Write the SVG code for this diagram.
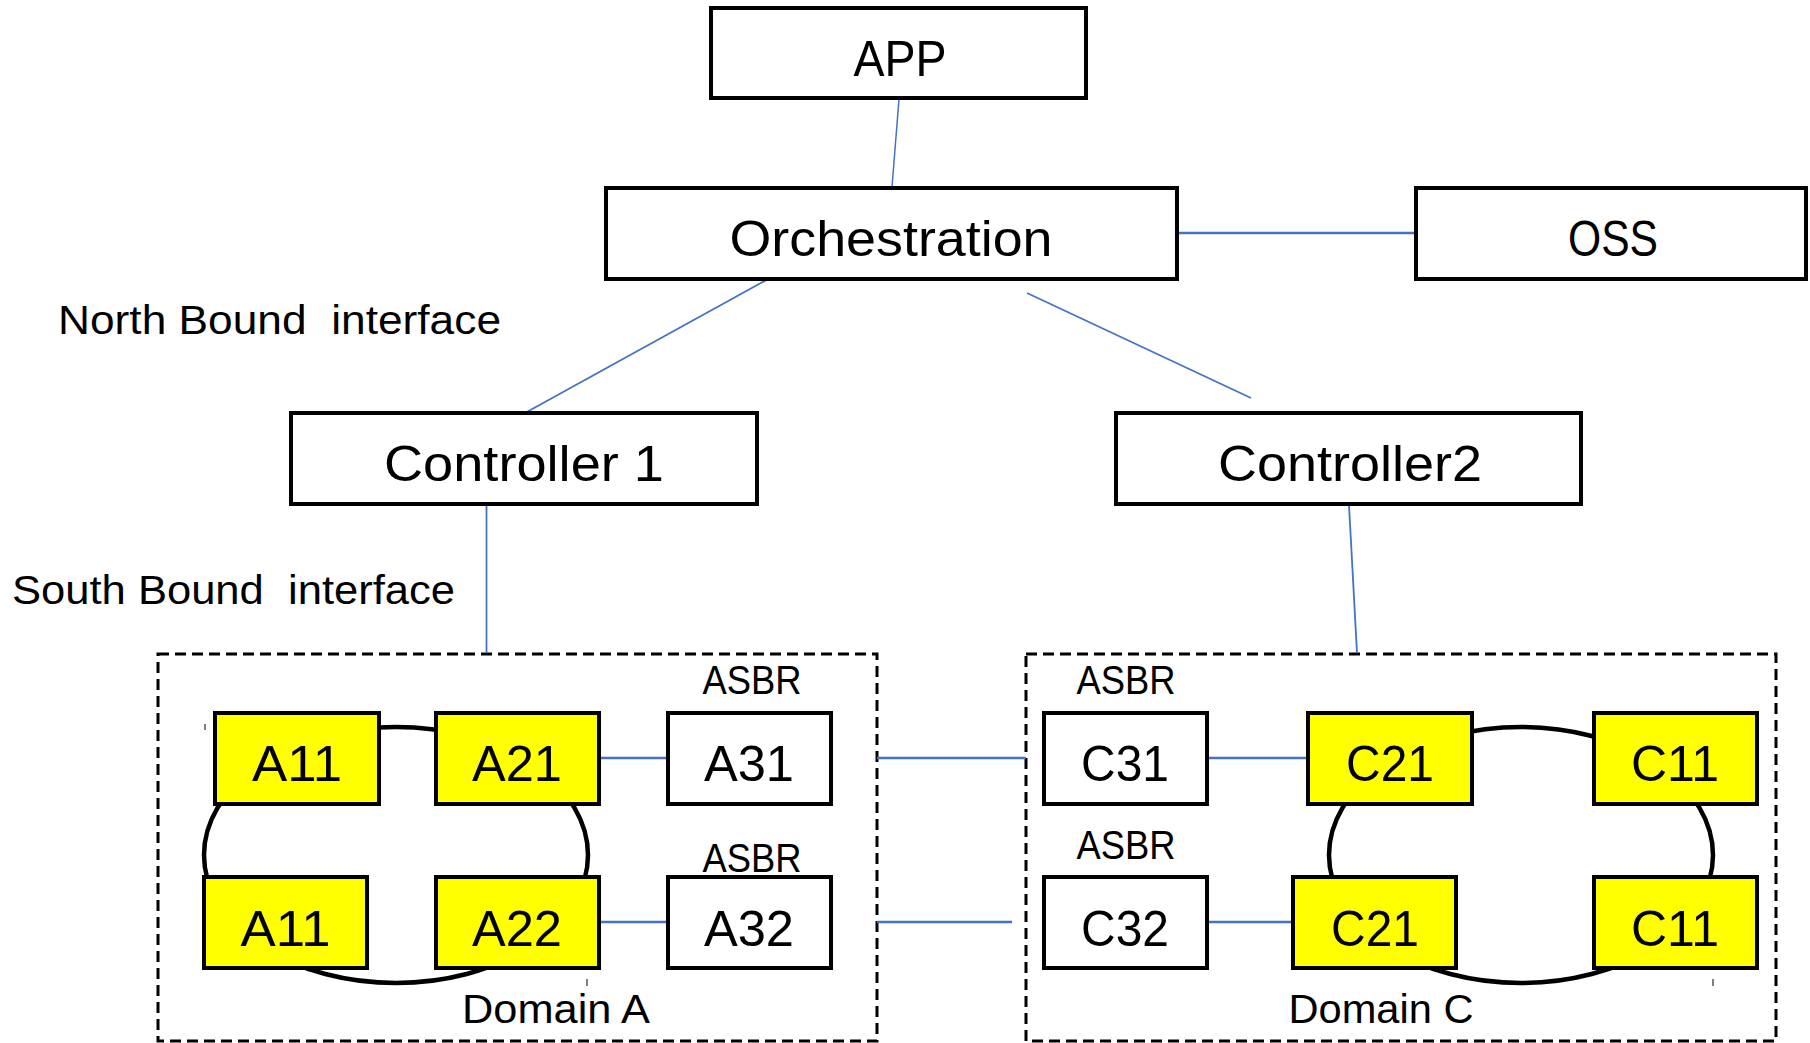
<svg xmlns="http://www.w3.org/2000/svg" width="1810" height="1043" viewBox="0 0 1810 1043">
<style>
text{font-family:"Liberation Sans",Arial,sans-serif;fill:#000}
.big{font-size:50px;text-anchor:middle}
.lbl{font-size:40px}
.mid{font-size:40px;text-anchor:middle}
.box{fill:#fff;stroke:#000;stroke-width:4}
.ybox{fill:#ffff00;stroke:#000;stroke-width:4}
.dom{fill:none;stroke:#000;stroke-width:3;stroke-dasharray:11 6}
.ring{fill:none;stroke:#000;stroke-width:4.5}
.c{stroke:#4472c4;stroke-width:1.8;fill:none}
.tick{stroke:#000;stroke-width:1}
</style>
<rect width="1810" height="1043" fill="#fff"/>
<g id="domainA">
<rect class="dom" x="158" y="654" width="719" height="387"/>
<ellipse class="ring" cx="396" cy="855" rx="192" ry="128"/>
<line class="tick" x1="205" y1="724" x2="205" y2="730"/>
<line class="tick" x1="587" y1="979" x2="587" y2="986"/>
<text class="mid" x="556" y="1023" textLength="188" lengthAdjust="spacingAndGlyphs">Domain A</text>
<text class="mid" x="752" y="694" textLength="99" lengthAdjust="spacingAndGlyphs">ASBR</text>
<text class="mid" x="752" y="872" textLength="99" lengthAdjust="spacingAndGlyphs">ASBR</text>
</g>
<g id="domainC">
<rect class="dom" x="1026" y="654" width="750" height="387"/>
<ellipse class="ring" cx="1521" cy="855" rx="192" ry="128"/>
<line class="tick" x1="1713" y1="979" x2="1713" y2="986"/>
<text class="mid" x="1381" y="1023" textLength="185" lengthAdjust="spacingAndGlyphs">Domain C</text>
<text class="mid" x="1126" y="694" textLength="99" lengthAdjust="spacingAndGlyphs">ASBR</text>
<text class="mid" x="1126" y="859" textLength="99" lengthAdjust="spacingAndGlyphs">ASBR</text>
</g>
<g id="connectors">
<line class="c" x1="899" y1="99" x2="892" y2="187" style="stroke-width:1.5"/>
<line class="c" x1="1177" y1="233" x2="1416" y2="233" style="stroke-width:2.5"/>
<line class="c" x1="770" y1="278" x2="525" y2="413"/>
<line class="c" x1="1027" y1="293" x2="1251" y2="398"/>
<line class="c" x1="486.5" y1="505" x2="486.5" y2="653"/>
<line class="c" x1="1349" y1="505" x2="1357" y2="653"/>
<line class="c" x1="599" y1="758" x2="668" y2="758" style="stroke-width:2.5"/>
<line class="c" x1="599" y1="922" x2="668" y2="922" style="stroke-width:2.5"/>
<line class="c" x1="877" y1="758" x2="1026" y2="758" style="stroke-width:2.5"/>
<line class="c" x1="877" y1="922" x2="1012" y2="922" style="stroke-width:2.5"/>
<line class="c" x1="1207" y1="758" x2="1308" y2="758" style="stroke-width:2.5"/>
<line class="c" x1="1207" y1="922" x2="1293" y2="922" style="stroke-width:2.5"/>
</g>
<g id="app"><rect class="box" x="711" y="8" width="375" height="90"/><text class="big" x="900" y="76" textLength="93" lengthAdjust="spacingAndGlyphs">APP</text></g>
<g id="orchestration"><rect class="box" x="606" y="188" width="571" height="91"/><text class="big" x="891" y="256" textLength="323" lengthAdjust="spacingAndGlyphs">Orchestration</text></g>
<g id="oss"><rect class="box" x="1416" y="188" width="390" height="91"/><text class="big" x="1613" y="256" textLength="90" lengthAdjust="spacingAndGlyphs">OSS</text></g>
<g id="controller1"><rect class="box" x="291" y="413" width="466" height="91"/><text class="big" x="524" y="481" textLength="280" lengthAdjust="spacingAndGlyphs">Controller 1</text></g>
<g id="controller2"><rect class="box" x="1116" y="413" width="465" height="91"/><text class="big" x="1350" y="481" textLength="264" lengthAdjust="spacingAndGlyphs">Controller2</text></g>
<text class="lbl" x="58" y="334" xml:space="preserve" textLength="443" lengthAdjust="spacingAndGlyphs">North Bound  interface</text>
<text class="lbl" x="12" y="604" xml:space="preserve" textLength="443" lengthAdjust="spacingAndGlyphs">South Bound  interface</text>
<g id="A11a"><rect class="ybox" x="215" y="713" width="164" height="91"/><text class="big" x="297" y="781" textLength="90" lengthAdjust="spacingAndGlyphs">A11</text></g>
<g id="A21"><rect class="ybox" x="436" y="713" width="163" height="91"/><text class="big" x="517" y="781" textLength="90" lengthAdjust="spacingAndGlyphs">A21</text></g>
<g id="A31"><rect class="box" x="668" y="713" width="163" height="91"/><text class="big" x="749" y="781" textLength="90" lengthAdjust="spacingAndGlyphs">A31</text></g>
<g id="A11b"><rect class="ybox" x="204" y="877" width="163" height="91"/><text class="big" x="285.5" y="946" textLength="90" lengthAdjust="spacingAndGlyphs">A11</text></g>
<g id="A22"><rect class="ybox" x="436" y="877" width="163" height="91"/><text class="big" x="517" y="946" textLength="90" lengthAdjust="spacingAndGlyphs">A22</text></g>
<g id="A32"><rect class="box" x="668" y="877" width="163" height="91"/><text class="big" x="749" y="946" textLength="90" lengthAdjust="spacingAndGlyphs">A32</text></g>
<g id="C31"><rect class="box" x="1044" y="713" width="163" height="91"/><text class="big" x="1125" y="781" textLength="88" lengthAdjust="spacingAndGlyphs">C31</text></g>
<g id="C21a"><rect class="ybox" x="1308" y="713" width="164" height="91"/><text class="big" x="1390" y="781" textLength="88" lengthAdjust="spacingAndGlyphs">C21</text></g>
<g id="C11a"><rect class="ybox" x="1594" y="713" width="163" height="91"/><text class="big" x="1675" y="781" textLength="88" lengthAdjust="spacingAndGlyphs">C11</text></g>
<g id="C32"><rect class="box" x="1044" y="877" width="163" height="91"/><text class="big" x="1125" y="946" textLength="88" lengthAdjust="spacingAndGlyphs">C32</text></g>
<g id="C21b"><rect class="ybox" x="1293" y="877" width="163" height="91"/><text class="big" x="1375" y="946" textLength="88" lengthAdjust="spacingAndGlyphs">C21</text></g>
<g id="C11b"><rect class="ybox" x="1594" y="877" width="163" height="91"/><text class="big" x="1675" y="946" textLength="88" lengthAdjust="spacingAndGlyphs">C11</text></g>
</svg>
